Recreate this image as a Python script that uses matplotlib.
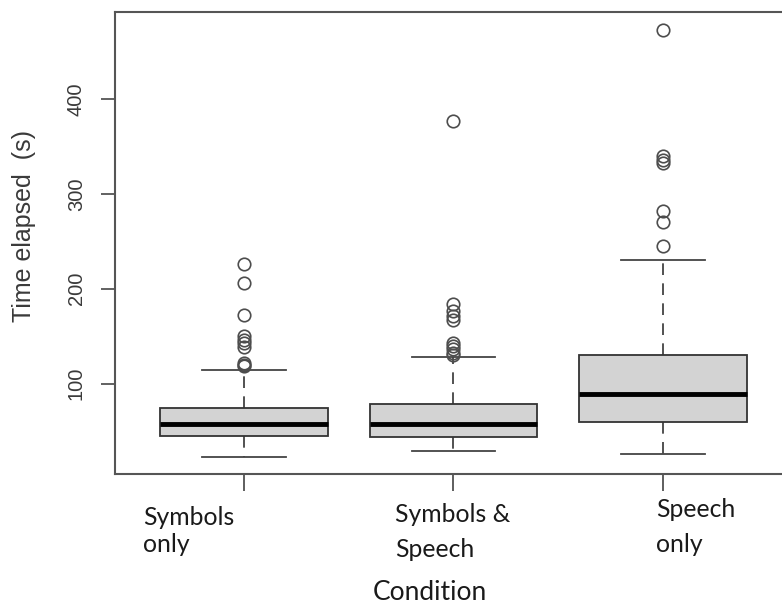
import numpy as np
import matplotlib
matplotlib.use("Agg")
import matplotlib.pyplot as plt

positions = [1, 2, 3]

# five-number summaries per condition (seconds)
q1 = [45.1, 44.1, 59.8]
median = [57.3, 57.3, 89.2]
q3 = [74.5, 78.0, 129.7]
whisker_lo = [22.7, 29.0, 25.9]
whisker_hi = [114.4, 127.6, 230.4]
outliers = [
    [226, 206, 172, 150, 146, 143, 139, 122, 120, 118],
    [377, 184, 176, 171, 167, 143, 140, 136, 132, 130],
    [473, 340, 336, 332, 282, 270, 245],
]

# condition labels, one list of lines per box
label_lines = [["Symbols", "only"], ["Symbols &", "Speech"], ["Speech", "only"]]
label_left = [143, 395, 656]
label_baselines = [[525, 552], [522, 557], [517, 552]]

stats = []
for i in range(3):
    stats.append(dict(med=median[i], q1=q1[i], q3=q3[i],
                      whislo=whisker_lo[i], whishi=whisker_hi[i],
                      fliers=outliers[i]))

W, H = 782, 608
fig = plt.figure(figsize=(W/100, H/100), dpi=100)
ax = fig.add_axes([115/W, 1-474/H, 677/W, 462/H])

ax.bxp(stats, positions=positions, widths=0.8, patch_artist=True,
       boxprops=dict(facecolor="#d3d3d3", edgecolor="#333333", linewidth=1.3),
       medianprops=dict(color="black", linewidth=3.5, solid_capstyle="butt"),
       whiskerprops=dict(color="#333333", linewidth=1.2, linestyle=(0, (7, 5))),
       capprops=dict(color="#444444", linewidth=1.3),
       capwidths=0.4,
       flierprops=dict(marker="o", markersize=9, markerfacecolor="none",
                       markeredgecolor="#4d4d4d", markeredgewidth=1.2))

ax.set_xlim(0.384, 3.616)
ax.set_ylim(4.7, 491.6)

for sp in ax.spines.values():
    sp.set_color("#555555")
    sp.set_linewidth(1.5)

ax.set_yticks([100, 200, 300, 400])
ax.set_yticklabels(["100", "200", "300", "400"], rotation=90, va="center",
                   fontfamily="Liberation Sans", fontsize=14.5, color="#3a3a3a")
ax.tick_params(axis="y", length=10, width=1.3, color="#555555", pad=11)
ax.set_xticks(positions)
ax.set_xticklabels([])
ax.tick_params(axis="x", length=12, width=1.1, color="#333333")

fig.text(24/W, 1-226/H, "Time elapsed  (s)", rotation=90, ha="center", va="center",
         fontfamily="Liberation Sans", fontsize=18, color="#3a3a3a")

for lines, x, ys in zip(label_lines, label_left, label_baselines):
    for line, y in zip(lines, ys):
        fig.text(x/W, 1-y/H, line, ha="left", va="baseline", fontfamily="Lato",
                 fontsize=17.8, color="#1a1a1a")

fig.text(430/W, 1-600/H, "Condition", ha="center", va="baseline",
         fontfamily="Lato", fontsize=19, color="#1a1a1a")

fig.savefig("out.png", dpi=100)
